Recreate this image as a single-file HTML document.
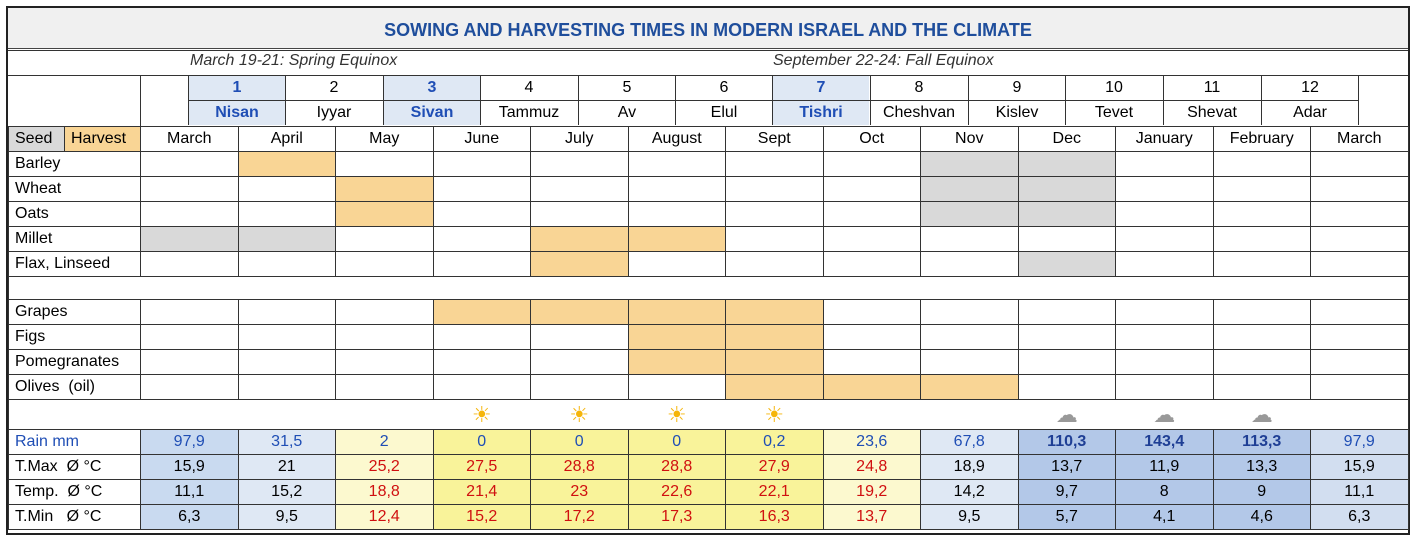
<!DOCTYPE html>
<html><head><meta charset="utf-8"><style>
body{margin:0;width:1412px;height:537px;background:#fff;font-family:"Liberation Sans",sans-serif;position:relative;overflow:hidden}
.frame{position:absolute;left:6px;top:6px;width:1400px;height:525px;border:2px solid #222;background:#fff}
.title{position:absolute;left:8px;top:8px;width:1400px;height:40px;background:#f0f0f0;border-bottom:1px solid #444;text-align:center;line-height:44px;font-weight:bold;color:#1f4e9c;font-size:18px}
.eq{position:absolute;top:52px;font-style:italic;font-size:16px;color:#333}
.hb{position:absolute;width:97px;height:24px;border-left:1px solid #333;text-align:center;font-size:16px;line-height:24px;box-sizing:border-box}
.bl{background:#dfe8f4;color:#1f4eb5;font-weight:bold}
table{position:absolute;left:8px;top:126px;border-collapse:collapse;table-layout:fixed;font-size:16px}
td{border:1px solid #333;padding:0;text-align:center;height:24px;overflow:hidden;white-space:nowrap}
td.l{text-align:left;padding-left:6px}
.s{background:#d9d9d9}.h{background:#f9d595}
.b1{background:#c9daf0}.b2{background:#dfe8f4}.y1{background:#fcf9cf}.y2{background:#f9f39a}.b3{background:#b3c8e8}.b4{background:#d2def0}
.r{color:#d01010}.u{color:#1f4eb5}.ub{color:#1f3f95;font-weight:bold}
.sun{color:#f5b50a;font-size:22px}
</style></head><body>
<div class="frame"></div>
<div class="title">SOWING AND HARVESTING TIMES IN MODERN ISRAEL AND THE CLIMATE</div>
<div style="position:absolute;left:8px;top:50px;width:1400px;border-top:1px solid #333"></div>
<div class="eq" style="left:190px">March 19-21: Spring Equinox</div>
<div class="eq" style="left:773px">September 22-24: Fall Equinox</div>
<div style="position:absolute;left:8px;top:75px;width:1400px;border-top:1px solid #333"></div>
<div style="position:absolute;left:140px;top:75px;height:51px;border-left:1px solid #333"></div>
<div style="position:absolute;left:188px;top:100px;width:1171px;border-top:1px solid #333"></div>
<div class="hb bl" style="left:188px;top:76px">1</div><div class="hb bl" style="left:188px;top:101px">Nisan</div>
<div class="hb" style="left:285px;top:76px">2</div><div class="hb" style="left:285px;top:101px">Iyyar</div>
<div class="hb bl" style="left:383px;top:76px">3</div><div class="hb bl" style="left:383px;top:101px">Sivan</div>
<div class="hb" style="left:480px;top:76px">4</div><div class="hb" style="left:480px;top:101px">Tammuz</div>
<div class="hb" style="left:578px;top:76px">5</div><div class="hb" style="left:578px;top:101px">Av</div>
<div class="hb" style="left:675px;top:76px">6</div><div class="hb" style="left:675px;top:101px">Elul</div>
<div class="hb bl" style="left:772px;top:76px">7</div><div class="hb bl" style="left:772px;top:101px">Tishri</div>
<div class="hb" style="left:870px;top:76px">8</div><div class="hb" style="left:870px;top:101px">Cheshvan</div>
<div class="hb" style="left:968px;top:76px">9</div><div class="hb" style="left:968px;top:101px">Kislev</div>
<div class="hb" style="left:1065px;top:76px">10</div><div class="hb" style="left:1065px;top:101px">Tevet</div>
<div class="hb" style="left:1163px;top:76px">11</div><div class="hb" style="left:1163px;top:101px">Shevat</div>
<div class="hb" style="left:1261px;top:76px;width:98px;border-right:1px solid #333">12</div><div class="hb" style="left:1261px;top:101px;width:98px;border-right:1px solid #333">Adar</div>
<table>
<colgroup><col style="width:56px"><col style="width:76px"><col span="13" style="width:97.5px"></colgroup>
<tr><td class="s l">Seed</td><td class="h l">Harvest</td><td>March</td><td>April</td><td>May</td><td>June</td><td>July</td><td>August</td><td>Sept</td><td>Oct</td><td>Nov</td><td>Dec</td><td>January</td><td>February</td><td>March</td></tr>
<tr><td colspan="2" class="l">Barley</td><td></td><td class="h"></td><td></td><td></td><td></td><td></td><td></td><td></td><td class="s"></td><td class="s"></td><td></td><td></td><td></td></tr>
<tr><td colspan="2" class="l">Wheat</td><td></td><td></td><td class="h"></td><td></td><td></td><td></td><td></td><td></td><td class="s"></td><td class="s"></td><td></td><td></td><td></td></tr>
<tr><td colspan="2" class="l">Oats</td><td></td><td></td><td class="h"></td><td></td><td></td><td></td><td></td><td></td><td class="s"></td><td class="s"></td><td></td><td></td><td></td></tr>
<tr><td colspan="2" class="l">Millet</td><td class="s"></td><td class="s"></td><td></td><td></td><td class="h"></td><td class="h"></td><td></td><td></td><td></td><td></td><td></td><td></td><td></td></tr>
<tr><td colspan="2" class="l">Flax, Linseed</td><td></td><td></td><td></td><td></td><td class="h"></td><td></td><td></td><td></td><td></td><td class="s"></td><td></td><td></td><td></td></tr>
<tr><td colspan="15" style="height:22px"></td></tr>
<tr><td colspan="2" class="l">Grapes</td><td></td><td></td><td></td><td class="h"></td><td class="h"></td><td class="h"></td><td class="h"></td><td></td><td></td><td></td><td></td><td></td><td></td></tr>
<tr><td colspan="2" class="l">Figs</td><td></td><td></td><td></td><td></td><td></td><td class="h"></td><td class="h"></td><td></td><td></td><td></td><td></td><td></td><td></td></tr>
<tr><td colspan="2" class="l">Pomegranates</td><td></td><td></td><td></td><td></td><td></td><td class="h"></td><td class="h"></td><td></td><td></td><td></td><td></td><td></td><td></td></tr>
<tr><td colspan="2" class="l">Olives&nbsp; (oil)</td><td></td><td></td><td></td><td></td><td></td><td></td><td class="h"></td><td class="h"></td><td class="h"></td><td></td><td></td><td></td><td></td></tr>
<tr style="border-left:1px solid #333;border-right:1px solid #333"><td colspan="5" style="border:none;height:29px"></td><td class="sun" style="border:none">☀</td><td class="sun" style="border:none">☀</td><td class="sun" style="border:none">☀</td><td class="sun" style="border:none">☀</td><td style="border:none"></td><td style="border:none"></td><td style="border:none;color:#999;font-size:22px">☁</td><td style="border:none;color:#999;font-size:22px">☁</td><td style="border:none;color:#999;font-size:22px">☁</td><td style="border:none"></td></tr>
<tr><td colspan="2" class="l u">Rain mm</td><td class="b1 u">97,9</td><td class="b2 u">31,5</td><td class="y1 u">2</td><td class="y2 u">0</td><td class="y2 u">0</td><td class="y2 u">0</td><td class="y2 u">0,2</td><td class="y1 u">23,6</td><td class="b2 u">67,8</td><td class="b3 ub">110,3</td><td class="b3 ub">143,4</td><td class="b3 ub">113,3</td><td class="b4 u">97,9</td></tr>
<tr><td colspan="2" class="l">T.Max&nbsp; Ø °C</td><td class="b1">15,9</td><td class="b2">21</td><td class="y1 r">25,2</td><td class="y2 r">27,5</td><td class="y2 r">28,8</td><td class="y2 r">28,8</td><td class="y2 r">27,9</td><td class="y1 r">24,8</td><td class="b2">18,9</td><td class="b3">13,7</td><td class="b3">11,9</td><td class="b3">13,3</td><td class="b4">15,9</td></tr>
<tr><td colspan="2" class="l">Temp.&nbsp; Ø °C</td><td class="b1">11,1</td><td class="b2">15,2</td><td class="y1 r">18,8</td><td class="y2 r">21,4</td><td class="y2 r">23</td><td class="y2 r">22,6</td><td class="y2 r">22,1</td><td class="y1 r">19,2</td><td class="b2">14,2</td><td class="b3">9,7</td><td class="b3">8</td><td class="b3">9</td><td class="b4">11,1</td></tr>
<tr><td colspan="2" class="l">T.Min&nbsp;&nbsp; Ø °C</td><td class="b1">6,3</td><td class="b2">9,5</td><td class="y1 r">12,4</td><td class="y2 r">15,2</td><td class="y2 r">17,2</td><td class="y2 r">17,3</td><td class="y2 r">16,3</td><td class="y1 r">13,7</td><td class="b2">9,5</td><td class="b3">5,7</td><td class="b3">4,1</td><td class="b3">4,6</td><td class="b4">6,3</td></tr>
</table>
</body></html>
